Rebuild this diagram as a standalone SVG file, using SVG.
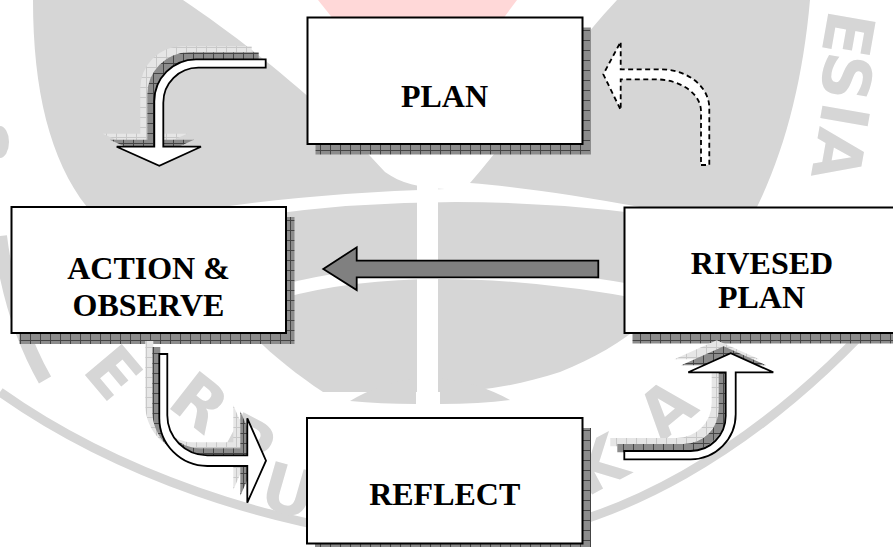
<svg xmlns="http://www.w3.org/2000/svg" xmlns:xlink="http://www.w3.org/1999/xlink" width="893" height="547" viewBox="0 0 893 547">
<style>
.wm{fill:#d6d6d6}
.wmt{fill:#d6d6d6;font-family:"DejaVu Sans","Liberation Sans",sans-serif;font-weight:bold;font-size:66px;text-anchor:middle}
.box{fill:#ffffff;stroke:#000;stroke-width:2}
.shadow{fill:url(#hatch)}
.lbl{font-family:"Liberation Serif","Times New Roman",serif;font-weight:bold;font-size:32px;fill:#000;text-anchor:middle}
.arr{fill:#fff;stroke:#000;stroke-width:1.8;stroke-linejoin:miter}
.ash1{fill:url(#hatch);stroke:none}
.ash2{fill:url(#hatchLight);stroke:none}
</style>
<defs>
<pattern id="hatch" width="10" height="10" patternUnits="userSpaceOnUse">
<rect width="10" height="10" fill="#8c8c8c"/>
<path d="M0 0.5H10M0.5 0V10" stroke="#444" stroke-width="1"/>
</pattern>
<pattern id="hatchLight" width="10" height="10" patternUnits="userSpaceOnUse">
<rect width="10" height="10" fill="#e6e6e6"/>
<path d="M0 0.5H10M0.5 0V10" stroke="#c8c8c8" stroke-width="1"/>
</pattern>
<path id="pA" d="M265.7,59.3 L196,59.3 A42,42 0 0 0 154.3,101.3 L154.3,146.7 L116.7,146.7 L159.3,165.7 L201,146.7 L163.3,146.7 L163.3,102.7 A35,35 0 0 1 198.3,67.7 L265.7,67.7 Z"/>
<path id="pB" d="M159.3,354 L159.3,418 A48,48 0 0 0 207.3,466 L247.3,466 L247.3,502.7 L266,460.7 L247.3,418.3 L247.3,455.3 L207.3,455.3 A40,40 0 0 1 167.3,415.3 L167.3,354 Z"/>
<path id="pC" d="M624.3,451 L690.7,451 A35,35 0 0 0 725.7,416 L725.7,372.3 L688.3,372.3 L730.7,353.3 L773.3,372.3 L735.7,372.3 L735.7,414.3 A45,45 0 0 1 690.7,459.3 L624.3,459.3 Z"/>
</defs>
<rect width="893" height="547" fill="#fff"/>

<g id="watermark">
<polygon points="318,0 517,0 450,90 390,90" fill="#ffd8d8"/>
<path class="wm" d="M33,0 L183,0 C250,45 330,110 385,172 C400,183 420,188 445,189 C350,192 260,200 190,212 L150,280 L60,250 C80,230 85,215 87,207 C50,160 33,90 33,0 Z"/>
<path class="wm" d="M617,0 L810,0 C803,80 785,150 757,207 L640,207 C580,196 520,187 470,183 C520,125 570,50 617,0 Z"/>
<path class="wm" d="M185,228 Q440,178 712,224 C690,290 640,340 560,372 C520,385 480,392 440,392 C400,392 360,392 323,392 C260,350 210,300 185,228 Z"/>
<rect x="417" y="180" width="21" height="225" fill="#fff"/>
<path d="M280,292 Q427,252 650,294" fill="none" stroke="#fff" stroke-width="13"/>
<path class="wm" d="M350,401 Q380,383 416,378 L416,404 Q380,404 350,401 Z"/>
<path class="wm" d="M440,378 Q480,383 510,400 Q480,404 440,404 Z"/>
<path d="M0,392 C110,470 270,530 440,542 C610,545 770,440 893,300" fill="none" stroke="#d6d6d6" stroke-width="9"/>
<ellipse class="wm" cx="0" cy="142" rx="9" ry="16"/>
<path d="M0,236 C8,300 25,345 45,380" fill="none" stroke="#d6d6d6" stroke-width="14"/>
<text class="wmt" transform="translate(114,372) rotate(50)" dy="24">E</text>
<text class="wmt" transform="translate(200,402) rotate(38)" dy="24">R</text>
<text class="wmt" transform="translate(248,442) rotate(28)" dy="24">P</text>
<text class="wmt" transform="translate(289,490) rotate(16)" dy="24">U</text>
<text class="wmt" transform="translate(598,464) rotate(-28)" dy="24">K</text>
<text class="wmt" transform="translate(666,408) rotate(-40)" dy="24">A</text>
<text class="wmt" transform="translate(849,34) rotate(100)" dy="24">E</text>
<text class="wmt" transform="translate(847,77) rotate(100)" dy="24">S</text>
<text class="wmt" transform="translate(845,116) rotate(100)" dy="24">I</text>
<text class="wmt" transform="translate(839,155) rotate(100)" dy="24">A</text>
</g>

<g id="node-plan">
<rect class="shadow" x="315.5" y="27.5" width="275" height="127"/>
<rect class="box" x="307.5" y="17.5" width="275" height="126.5"/>
<text class="lbl" x="444.5" y="106.5">PLAN</text>
</g>
<g id="node-action">
<rect class="shadow" x="19.5" y="217" width="275" height="127"/>
<rect class="box" x="11.5" y="207" width="274.5" height="126"/>
<text class="lbl" x="148.5" y="278.5">ACTION &amp;</text>
<text class="lbl" x="148.5" y="316">OBSERVE</text>
</g>
<g id="node-rivesed">
<rect class="shadow" x="632.5" y="217.5" width="276" height="126"/>
<rect class="box" x="624.5" y="207.5" width="276" height="125.5"/>
<text class="lbl" x="762" y="273.5">RIVESED</text>
<text class="lbl" x="761.5" y="308">PLAN</text>
</g>
<g id="node-reflect">
<rect class="shadow" x="315" y="428" width="276" height="126"/>
<rect class="box" x="307" y="418" width="275.5" height="125.5"/>
<text class="lbl" x="444.7" y="505">REFLECT</text>
</g>

<g id="connectors">
<use xlink:href="#pA" href="#pA" class="ash2" transform="translate(-14,-13)"/>
<use xlink:href="#pA" href="#pA" class="ash1" transform="translate(-7,-7)"/>
<use xlink:href="#pA" href="#pA" class="arr"/>
<use xlink:href="#pB" href="#pB" class="ash2" transform="translate(-14,-13)"/>
<use xlink:href="#pB" href="#pB" class="ash1" transform="translate(-7,-7)"/>
<use xlink:href="#pB" href="#pB" class="arr"/>
<use xlink:href="#pC" href="#pC" class="ash2" transform="translate(-14,-13)"/>
<use xlink:href="#pC" href="#pC" class="ash1" transform="translate(-7,-7)"/>
<use xlink:href="#pC" href="#pC" class="arr"/>
<path d="M598.3,260.7 L356.7,260.7 L356.7,247.3 L323.3,269 L356.7,290 L356.7,277.3 L598.3,277.3 Z" fill="#808080" stroke="#000" stroke-width="1.8"/>
<path d="M701,165 L709.3,165 L709.3,108 A48.7,38.7 0 0 0 660.6,69.3 L620.7,69.3 L620.7,41.7 L603.3,74.3 L620.7,110 L620.7,79.3 L655,79.3 A46,32 0 0 1 701,111.3 Z" fill="#fff" stroke="#000" stroke-width="1.8" stroke-dasharray="5 3.5"/>
</g>
</svg>
